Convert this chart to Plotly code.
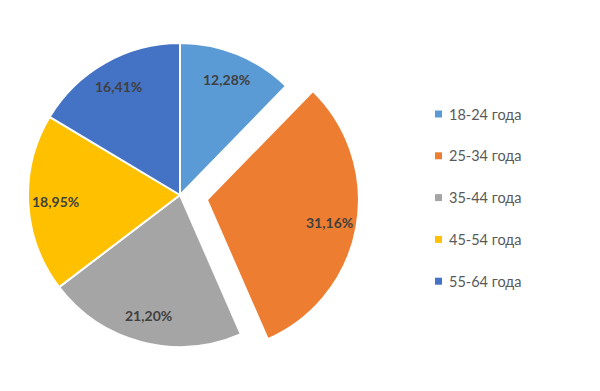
import math
import plotly.graph_objects as go

labels = ["18-24 года", "25-34 года", "35-44 года", "45-54 года", "55-64 года"]
values = [12.28, 31.16, 21.20, 18.95, 16.41]
colors = ["#5B9BD5", "#ED7D31", "#A5A5A5", "#FFC000", "#4472C4"]
pulls = [0, 0.18, 0, 0, 0]

W, H = 600, 391
OFF = 8  # page body margin
cx_px, cy_px = 180 - OFF, 195 - OFF
R = 152
CLEAR = "rgba(0,0,0,0)"

total = sum(values)
mids = []
cum = 0
for v in values:
    mids.append((cum + v / 2) / total * 2 * math.pi)
    cum += v


def domain_for(cx, cy):
    return dict(x=[(cx - R) / W, (cx + R) / W], y=[(H - cy - R) / H, (H - cy + R) / H])


fig = go.Figure()
# base pie: unpulled slices
fig.add_trace(go.Pie(
    labels=labels, values=values, sort=False, direction="clockwise", rotation=0,
    marker=dict(colors=[CLEAR if p else c for c, p in zip(colors, pulls)],
                line=dict(color=[CLEAR if p else "white" for p in pulls],
                          width=[0 if p else 2 for p in pulls])),
    textinfo="none", hoverinfo="label+percent", showlegend=False,
    domain=domain_for(cx_px, cy_px),
))
# pulled slices, drawn offset along their mid angle
for i, p in enumerate(pulls):
    if not p:
        continue
    dx = p * R * math.sin(mids[i])
    dy = -p * R * math.cos(mids[i])
    fig.add_trace(go.Pie(
        labels=labels, values=values, sort=False, direction="clockwise", rotation=0,
        marker=dict(colors=[colors[j] if j == i else CLEAR for j in range(len(values))],
                    line=dict(color=["white" if j == i else CLEAR for j in range(len(values))],
                              width=[2 if j == i else 0 for j in range(len(values))])),
        textinfo="none", hoverinfo="label+percent", showlegend=False,
        domain=domain_for(cx_px + dx, cy_px + dy),
    ))

annotations = []
shapes = []
for v, p, mid in zip(values, pulls, mids):
    d = 0.82 * R + p * R
    x = cx_px + d * math.sin(mid)
    y = cy_px - d * math.cos(mid)
    txt = f"{v:.2f}".replace(".", ",") + "%"
    annotations.append(dict(x=x / W, y=(H - y) / H, xref="paper", yref="paper",
                            xanchor="center", yanchor="middle",
                            text=txt, showarrow=False,
                            font=dict(family="Lato", size=14, color="#404040", weight="bold")))

leg_x = 435 - OFF
leg_y0 = 114 - OFF
leg_dy = 41.8
for i, (lab, c) in enumerate(zip(labels, colors)):
    y = leg_y0 + i * leg_dy
    shapes.append(dict(type="rect", xref="paper", yref="paper",
                       x0=leg_x / W, x1=(leg_x + 7) / W,
                       y0=(H - y - 3.5) / H, y1=(H - y + 3.5) / H,
                       fillcolor=c, line=dict(width=0)))
    annotations.append(dict(x=(leg_x + 12) / W, y=(H - y) / H, xref="paper", yref="paper",
                            text=lab, showarrow=False, xanchor="left", yanchor="middle",
                            font=dict(family="Lato", size=14.5, color="#595959")))

fig.update_layout(width=W, height=H, margin=dict(l=0, r=0, t=0, b=0),
                  paper_bgcolor="white", plot_bgcolor="white",
                  annotations=annotations, shapes=shapes)
fig.write_html("out.html")
